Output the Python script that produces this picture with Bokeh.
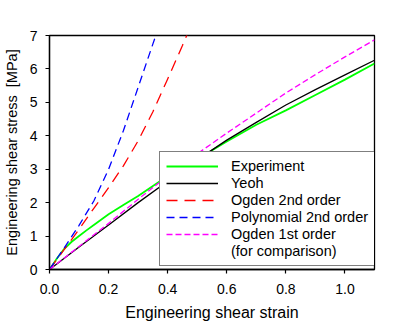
from bokeh.plotting import figure
from bokeh.models import Legend, LegendItem, FixedTicker, Range1d, PrintfTickFormatter
from bokeh.embed import file_html
from bokeh.resources import INLINE

# ---- data ----
strain_exp = [0, 0.025, 0.05, 0.075, 0.1, 0.125, 0.15, 0.2, 0.25, 0.3, 0.35, 0.4, 0.5, 0.6, 0.7, 0.8, 0.9, 1.0, 1.1]
stress_exp = [0, 0.33, 0.62, 0.83, 1.0, 1.17, 1.33, 1.65, 1.93, 2.2, 2.5, 2.8, 3.3, 3.83, 4.33, 4.76, 5.22, 5.68, 6.16]

strain_model = [0, 0.1, 0.2, 0.3, 0.4, 0.5, 0.6, 0.7, 0.8, 0.9, 1.0, 1.1]
stress_yeoh = [0, 0.67, 1.33, 2.0, 2.64, 3.28, 3.87, 4.40, 4.92, 5.38, 5.82, 6.26]
stress_ogden1 = [0, 0.69, 1.38, 2.1, 2.8, 3.46, 4.08, 4.68, 5.28, 5.83, 6.36, 6.87]

strain_ogden2 = [0, 0.05, 0.1, 0.15, 0.2, 0.25, 0.3, 0.35, 0.4, 0.45, 0.5]
stress_ogden2 = [0, 0.6, 1.2, 1.83, 2.45, 3.1, 3.85, 4.72, 5.7, 6.7, 7.75]

strain_poly = [0, 0.05, 0.1, 0.15, 0.2, 0.25, 0.3, 0.35, 0.4]
stress_poly = [0, 0.65, 1.32, 2.05, 3.0, 4.15, 5.45, 6.75, 8.0]

x_ticks = [0, 0.2, 0.4, 0.6, 0.8, 1.0]
y_ticks = [0, 1, 2, 3, 4, 5, 6, 7]

labels = ["Experiment", "Yeoh", "Ogden 2nd order", "Polynomial 2nd order",
          "Ogden 1st order", "(for comparison)"]

FONT = "Liberation Sans"

p = figure(width=392, height=325, x_range=Range1d(0, 1.1), y_range=Range1d(0, 7),
           output_backend="svg", toolbar_location=None,
           min_border_left=48, min_border_right=18, min_border_top=35, min_border_bottom=56)

p.background_fill_color = "white"
p.border_fill_color = "white"
p.outline_line_color = "black"
p.outline_line_width = 1.3
p.xgrid.visible = False
p.ygrid.visible = False

r_exp = p.line(strain_exp, stress_exp, line_color="#00ff00", line_width=1.8)
r_yeoh = p.line(strain_model, stress_yeoh, line_color="black", line_width=1.3)
r_og2 = p.line(strain_ogden2, stress_ogden2, line_color="#ff0000", line_width=1.3, line_dash="11 7")
r_poly = p.line(strain_poly, stress_poly, line_color="#0000ff", line_width=1.3, line_dash="8 5")
r_og1 = p.line(strain_model, stress_ogden1, line_color="#ff00ff", line_width=1.3, line_dash="6 3")
r_dummy = p.line([0], [0], line_alpha=0)

for ax in (p.xaxis[0], p.yaxis[0]):
    ax.axis_line_color = "black"
    ax.axis_line_width = 1.3
    ax.major_tick_line_color = "black"
    ax.major_tick_line_width = 1.2
    ax.major_tick_in = 0
    ax.major_tick_out = 4
    ax.minor_tick_line_color = None
    ax.major_label_text_font = FONT
    ax.major_label_text_font_size = "14px"
    ax.major_label_text_color = "black"
    ax.axis_label_text_font = FONT
    ax.axis_label_text_font_style = "normal"
    ax.axis_label_text_color = "black"

p.xaxis[0].ticker = FixedTicker(ticks=x_ticks)
p.xaxis[0].formatter = PrintfTickFormatter(format="%.1f")
p.xaxis[0].axis_label = "Engineering shear strain"
p.xaxis[0].axis_label_text_font_size = "16px"
p.xaxis[0].major_label_standoff = 10
p.xaxis[0].axis_label_standoff = 7

p.yaxis[0].ticker = FixedTicker(ticks=y_ticks)
p.yaxis[0].formatter = PrintfTickFormatter(format="%d")
p.yaxis[0].axis_label = "Engineering shear stress \u00a0[MPa]"
p.yaxis[0].axis_label_text_font_size = "14.5px"
p.yaxis[0].major_label_standoff = 8
p.yaxis[0].axis_label_standoff = 7

legend = Legend(items=[
    LegendItem(label=labels[0], renderers=[r_exp]),
    LegendItem(label=labels[1], renderers=[r_yeoh]),
    LegendItem(label=labels[2], renderers=[r_og2]),
    LegendItem(label=labels[3], renderers=[r_poly]),
    LegendItem(label=labels[4], renderers=[r_og1]),
    LegendItem(label=labels[5], renderers=[r_dummy]),
], location=(110, 3))
legend.label_text_font = FONT
legend.label_text_font_size = "14.5px"
legend.label_text_color = "black"
legend.glyph_width = 52
legend.glyph_height = 16
legend.label_height = 16
legend.label_standoff = 13
legend.spacing = 1
legend.padding = 6
legend.margin = 0
legend.border_line_color = "black"
legend.border_line_width = 1.3
legend.background_fill_color = "white"
legend.background_fill_alpha = 1.0
p.add_layout(legend, "center")

open("out.html", "w").write(file_html(p, INLINE))
